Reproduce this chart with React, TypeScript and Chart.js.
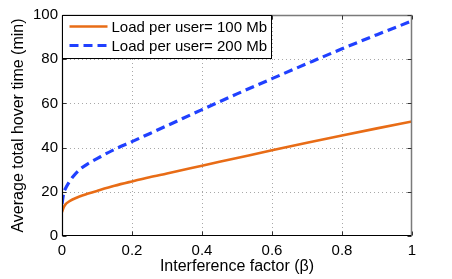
import React, { useEffect, useRef } from "react";
import { Chart, registerables } from "chart.js";

Chart.register(...registerables);

// ---- data ----
const betaValues = [0, 0.005, 0.01, 0.02, 0.03, 0.05, 0.075, 0.1, 0.15, 0.2, 0.25, 0.3, 0.4, 0.5, 0.6, 0.7, 0.8, 0.9, 1.0];
const load100Values = [10.8, 13.0, 14.3, 15.6, 16.5, 17.9, 19.2, 20.4, 22.7, 24.7, 26.6, 28.3, 31.8, 35.3, 38.8, 42.2, 45.5, 48.7, 51.8];
const load200Values = [14.5, 19.5, 21.5, 24.3, 26.6, 30.0, 32.8, 35.0, 39.2, 42.7, 46.3, 49.9, 57.2, 64.3, 71.2, 78.0, 84.7, 91.1, 97.3];
const seriesLabels = ["Load per user= 100 Mb", "Load per user= 200 Mb"];
const xTicks = [0, 0.2, 0.4, 0.6, 0.8, 1];
const yTicks = [0, 20, 40, 60, 80, 100];
const xTitle = "Interference factor (\u03b2)";
const yTitle = "Average total hover time (min)";

const ORANGE = "rgb(232,108,22)";
const BLUE = "rgb(32,64,255)";
const FONT = '"Liberation Sans", Arial, Helvetica, sans-serif';

const matlabPlugin = {
  id: "matlabFrame",
  beforeDatasetsDraw(chart: any) {
    const { ctx, chartArea: a, scales } = chart;
    const x = scales.x;
    const y = scales.y;
    ctx.save();
    ctx.strokeStyle = "#a8a8a8";
    ctx.lineWidth = 1;
    ctx.setLineDash([1, 3]);
    xTicks.forEach((v) => {
      if (v === x.min || v === x.max) return;
      const px = Math.round(x.getPixelForValue(v)) + 0.5;
      ctx.beginPath();
      ctx.moveTo(px, a.top);
      ctx.lineTo(px, a.bottom);
      ctx.stroke();
    });
    yTicks.forEach((v) => {
      if (v === y.min || v === y.max) return;
      const py = Math.round(y.getPixelForValue(v)) + 0.5;
      ctx.beginPath();
      ctx.moveTo(a.left, py);
      ctx.lineTo(a.right, py);
      ctx.stroke();
    });
    ctx.restore();
  },
  afterDatasetsDraw(chart: any) {
    const { ctx, chartArea: a, scales } = chart;
    const x = scales.x;
    const y = scales.y;
    const L = Math.round(a.left) + 0.5;
    const R = Math.round(a.right) - 0.5;
    const T = Math.round(a.top) + 0.5;
    const B = Math.round(a.bottom) - 0.5;
    ctx.save();
    ctx.setLineDash([]);
    // top/right border (grey)
    ctx.strokeStyle = "#7a7a7a";
    ctx.lineWidth = 1.5;
    ctx.beginPath();
    ctx.moveTo(L, T);
    ctx.lineTo(R, T);
    ctx.lineTo(R, B);
    ctx.stroke();
    // ticks
    const tl = 4;
    ctx.lineWidth = 1;
    ctx.strokeStyle = "#333";
    xTicks.forEach((v) => {
      const px = Math.round(x.getPixelForValue(v)) + 0.5;
      ctx.beginPath();
      ctx.moveTo(px, B);
      ctx.lineTo(px, B - tl);
      ctx.moveTo(px, T);
      ctx.lineTo(px, T + tl);
      ctx.stroke();
    });
    yTicks.forEach((v) => {
      const py = Math.round(y.getPixelForValue(v)) + 0.5;
      ctx.beginPath();
      ctx.moveTo(L, py);
      ctx.lineTo(L + tl, py);
      ctx.moveTo(R, py);
      ctx.lineTo(R - tl, py);
      ctx.stroke();
    });
    // left/bottom axis (black)
    ctx.strokeStyle = "#000";
    ctx.lineWidth = 1.2;
    ctx.beginPath();
    ctx.moveTo(L, T);
    ctx.lineTo(L, B);
    ctx.lineTo(R, B);
    ctx.stroke();

    // legend
    const bx = L;
    const by = T;
    const bw = 209;
    const bh = 43;
    ctx.fillStyle = "#fff";
    ctx.fillRect(bx, by, bw, bh);
    ctx.strokeStyle = "#000";
    ctx.lineWidth = 1;
    ctx.strokeRect(bx, by, bw, bh);
    const rows = [11, 30];
    chart.data.datasets.forEach((ds: any, i: number) => {
      const ry = by + rows[i];
      ctx.save();
      ctx.strokeStyle = ds.borderColor;
      ctx.lineWidth = ds.borderWidth;
      ctx.setLineDash(ds.borderDash || []);
      ctx.beginPath();
      ctx.moveTo(bx + 7, ry);
      ctx.lineTo(bx + 45, ry);
      ctx.stroke();
      ctx.restore();
      ctx.fillStyle = "#000";
      ctx.font = "15px " + FONT;
      ctx.textBaseline = "middle";
      ctx.textAlign = "left";
      ctx.fillText(ds.label, bx + 49, ry + 1);
    });
    ctx.restore();
  },
};

export default function App() {
  const ref = useRef<HTMLCanvasElement | null>(null);
  useEffect(() => {
    if (!ref.current) return;
    const chart = new Chart(ref.current, {
      type: "line",
      data: {
        datasets: [
          {
            label: seriesLabels[0],
            data: betaValues.map((b, i) => ({ x: b, y: load100Values[i] })),
            borderColor: ORANGE,
            backgroundColor: ORANGE,
            borderWidth: 2.6,
            pointRadius: 0,
            fill: false,
            cubicInterpolationMode: "monotone",
          },
          {
            label: seriesLabels[1],
            data: betaValues.map((b, i) => ({ x: b, y: load200Values[i] })),
            borderColor: BLUE,
            backgroundColor: BLUE,
            borderWidth: 3.2,
            borderDash: [9, 5],
            pointRadius: 0,
            fill: false,
            cubicInterpolationMode: "monotone",
          },
        ],
      } as any,
      options: {
        animation: false,
        responsive: false,
        maintainAspectRatio: false,
        devicePixelRatio: 1,
        layout: { padding: { left: 0, right: 40, top: 15, bottom: 0 } },
        plugins: { legend: { display: false }, tooltip: { enabled: false } },
        scales: {
          x: {
            type: "linear",
            min: 0,
            max: 1,
            afterBuildTicks: (s: any) => {
              s.ticks = xTicks.map((v) => ({ value: v }));
            },
            afterFit: (s: any) => {
              s.height = 43;
            },
            grid: { display: false, drawTicks: false },
            border: { display: false },
            ticks: {
              color: "#000",
              font: { family: FONT, size: 15 },
              padding: 6,
              maxRotation: 0,
              autoSkip: false,
              callback: (v: any) => String(v),
            },
            title: {
              display: true,
              text: xTitle,
              color: "#000",
              font: { family: FONT, size: 16 },
              padding: { top: 0, bottom: 3 },
            },
          },
          y: {
            type: "linear",
            min: 0,
            max: 100,
            afterBuildTicks: (s: any) => {
              s.ticks = yTicks.map((v) => ({ value: v }));
            },
            afterFit: (s: any) => {
              s.width = 62;
            },
            grid: { display: false, drawTicks: false },
            border: { display: false },
            ticks: {
              color: "#000",
              font: { family: FONT, size: 15 },
              padding: 4,
              autoSkip: false,
              callback: (v: any) => String(v),
            },
            title: {
              display: true,
              text: yTitle,
              color: "#000",
              font: { family: FONT, size: 16 },
              padding: { top: 9, bottom: 0 },
            },
          },
        },
      } as any,
      plugins: [matlabPlugin],
    });
    return () => chart.destroy();
  }, []);
  return (
    <div style={{ position: "absolute", left: 0, top: 0, width: 452, height: 279, background: "#fff" }}>
      <canvas ref={ref} width={452} height={279} style={{ display: "block" }} />
    </div>
  );
}
